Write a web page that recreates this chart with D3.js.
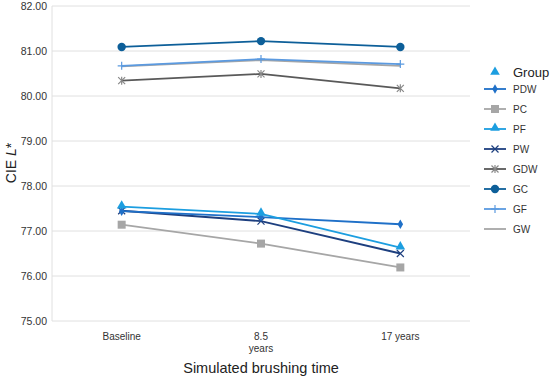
<!DOCTYPE html>
<html><head><meta charset="utf-8">
<script src="https://cdn.jsdelivr.net/npm/d3@7"></script>
<style>body{margin:0;background:#fff}svg{font-family:"Liberation Sans",Arial,sans-serif}</style>
</head><body><svg id="c" width="550" height="381"></svg>
<script>
const categories = ["Baseline", "8.5 years", "17 years"];
const yTicks = [75, 76, 77, 78, 79, 80, 81, 82];
const seriesNames = ["PDW", "PC", "PF", "PW", "GDW", "GC", "GF", "GW"];
const PDW = [77.44, 77.31, 77.15];
const PC  = [77.14, 76.72, 76.19];
const PF  = [77.54, 77.38, 76.63];
const PW  = [77.45, 77.22, 76.50];
const GDW = [80.34, 80.49, 80.17];
const GC  = [81.09, 81.22, 81.09];
const GF  = [80.67, 80.82, 80.71];
const GW  = [80.66, 80.80, 80.67];
const values = {PDW, PC, PF, PW, GDW, GC, GF, GW};
const colors = {PDW:"#1f70c8", PC:"#a6a6a6", PF:"#1c9ee0", PW:"#1d3f7f", GDW:"#595959", GC:"#0d5f99", GF:"#5b9ae0", GW:"#a6a6a6"};
const markers = {PDW:"diamond", PC:"square", PF:"triangle", PW:"x", GDW:"star", GC:"circle", GF:"plus", GW:"none"};

const svg = d3.select("#c");
const m = {l:52, r:470, t:6, b:321};
const x = d3.scaleBand().domain(categories).range([m.l, m.r]);
const y = d3.scaleLinear().domain([75, 82]).range([m.b, m.t]);

svg.append("g").selectAll("line").data(yTicks).join("line")
  .attr("x1", m.l).attr("x2", m.r).attr("y1", d=>y(d)).attr("y2", d=>y(d))
  .attr("stroke", "#e0e0e0").attr("stroke-width", 1);
svg.append("line").attr("x1", m.l).attr("x2", m.l).attr("y1", m.t).attr("y2", m.b).attr("stroke","#e0e0e0");

const ya = svg.append("g").attr("transform", `translate(${m.l},0)`)
  .call(d3.axisLeft(y).tickValues(yTicks).tickFormat(d3.format(".2f")).tickSize(0).tickPadding(5));
ya.select(".domain").remove();
ya.selectAll("text").attr("font-size", 10.5).attr("fill", "#333").attr("font-family","Liberation Sans, Arial, sans-serif");

const xa = svg.append("g").attr("transform", `translate(0,${m.b})`)
  .call(d3.axisBottom(x).tickSize(0).tickPadding(12));
xa.select(".domain").remove();
xa.selectAll("text").attr("font-size", 10).attr("fill", "#333").attr("font-family","Liberation Sans, Arial, sans-serif")
  .each(function(d){
    if (d === "8.5 years") {
      const t = d3.select(this); t.text("");
      t.append("tspan").attr("x",0).attr("dy","0.71em").text("8.5");
      t.append("tspan").attr("x",0).attr("dy","1.15em").text("years");
      t.attr("dy", null).attr("y", 12);
    }
  });

svg.append("text").attr("x", 261).attr("y", 373).attr("text-anchor","middle")
  .attr("font-size", 14.5).attr("fill","#222").text("Simulated brushing time");
const yt = svg.append("text").attr("transform","translate(16,163) rotate(-90)").attr("text-anchor","middle")
  .attr("font-size", 14).attr("fill","#222");
yt.append("tspan").text("CIE ");
yt.append("tspan").attr("font-style","italic").text("L");
yt.append("tspan").text("*");

function drawMarker(g, type, cx, cy, color, s) {
  s = s || 1;
  if (type === "diamond") g.append("path").attr("d", d3.symbol(d3.symbolDiamond, 26*s)()).attr("transform",`translate(${cx},${cy})`).attr("fill",color);
  else if (type === "square") g.append("rect").attr("x",cx-4).attr("y",cy-4).attr("width",8).attr("height",8).attr("fill",color);
  else if (type === "triangle") g.append("path").attr("d", d3.symbol(d3.symbolTriangle, 40*s)()).attr("transform",`translate(${cx},${cy-1})`).attr("fill",color);
  else if (type === "circle") g.append("circle").attr("cx",cx).attr("cy",cy).attr("r",4.2).attr("fill",color);
  else if (type === "x") g.append("path").attr("d",`M${cx-3.5},${cy-3.5}L${cx+3.5},${cy+3.5}M${cx-3.5},${cy+3.5}L${cx+3.5},${cy-3.5}`).attr("stroke",color).attr("stroke-width",1.2);
  else if (type === "star") g.append("path").attr("d",`M${cx-3.5},${cy-3.5}L${cx+3.5},${cy+3.5}M${cx-3.5},${cy+3.5}L${cx+3.5},${cy-3.5}M${cx},${cy-4}L${cx},${cy+4}`).attr("stroke","#8a8a8a").attr("stroke-width",1.2);
  else if (type === "plus") g.append("path").attr("d",`M${cx},${cy-4}L${cx},${cy+4}M${cx-4},${cy}L${cx+4},${cy}`).attr("stroke",color).attr("stroke-width",1.2);
}

const line = d3.line().x((d,i)=>x(categories[i]) + x.bandwidth()/2).y(d=>y(d));
const drawOrder = ["GW","GF","GDW","GC","PC","PW","PDW","PF"];
drawOrder.forEach(n => {
  const g = svg.append("g");
  g.append("path").datum(values[n]).attr("d", line).attr("fill","none")
    .attr("stroke", colors[n]).attr("stroke-width", 1.8);
  values[n].forEach((v,i)=> drawMarker(g, markers[n], x(categories[i]) + x.bandwidth()/2, y(v), colors[n]));
});

const lg = svg.append("g");
drawMarker(lg, "triangle", 495, 73, "#1c9ee0", 1);
lg.append("text").attr("x", 513).attr("y", 77).attr("font-size", 13).attr("fill","#222").text("Group");
seriesNames.forEach((n,i)=>{
  const yy = 89 + i*20;
  lg.append("line").attr("x1",484).attr("x2",506).attr("y1",yy).attr("y2",yy).attr("stroke",colors[n]).attr("stroke-width",1.8);
  drawMarker(lg, markers[n], 495, yy, colors[n]);
  lg.append("text").attr("x",513).attr("y",yy+3.5).attr("font-size",10).attr("fill","#333").text(n);
});
</script></body></html>
